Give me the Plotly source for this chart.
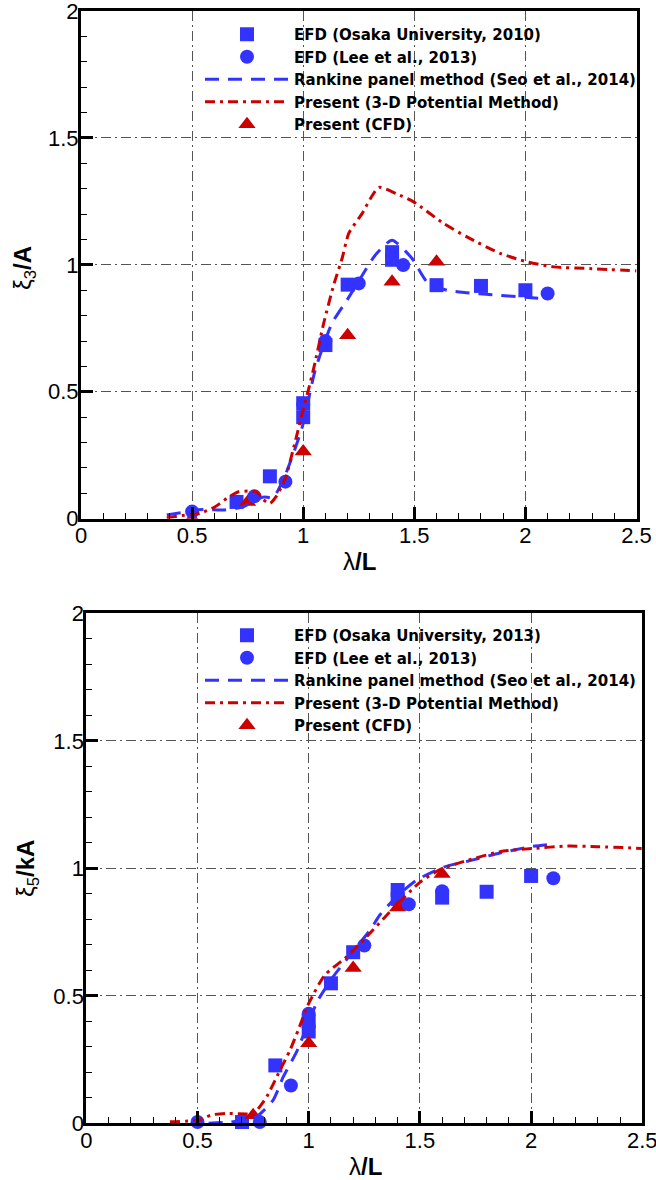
import plotly.graph_objects as go

# ---------------- Top panel (heave) ----------------
osaka1_x = [0.70, 0.85, 1.0, 1.0, 1.1, 1.2, 1.4, 1.4, 1.6, 1.8, 2.0]
osaka1_y = [0.066, 0.167, 0.40, 0.455, 0.684, 0.922, 1.02, 1.05, 0.92, 0.917, 0.90]
lee1_x = [0.5, 0.78, 0.92, 1.0, 1.1, 1.25, 1.45, 2.1]
lee1_y = [0.028, 0.088, 0.146, 0.45, 0.70, 0.927, 0.999, 0.887]
cfd1_x = [0.5, 0.75, 1.0, 1.2, 1.4, 1.6]
cfd1_y = [0.0, 0.066, 0.265, 0.723, 0.933, 1.012]
rk1_x = [0.386, 0.46, 0.52, 0.573, 0.64, 0.73, 0.78, 0.82, 0.866, 0.919, 0.994, 1.054,
         1.129, 1.197, 1.26, 1.324, 1.40, 1.49, 1.557, 1.647, 1.737, 1.85, 2.0, 2.1]
rk1_y = [0.015, 0.025, 0.035, 0.036, 0.034, 0.047, 0.07, 0.085, 0.085, 0.172, 0.356, 0.585,
         0.769, 0.861, 0.95, 1.038, 1.097, 1.025, 0.933, 0.90, 0.89, 0.882, 0.872, 0.865]
pot1_x = [0.386, 0.476, 0.536, 0.60, 0.656, 0.709, 0.79, 0.82, 0.85, 0.88, 0.92, 0.96, 1.0,
          1.03, 1.054, 1.092, 1.137, 1.175, 1.205, 1.265, 1.34, 1.42, 1.497, 1.632, 1.737,
          1.887, 2.007, 2.128, 2.30, 2.50]
pot1_y = [0.004, 0.015, 0.021, 0.045, 0.08, 0.106, 0.106, 0.075, 0.06, 0.09, 0.16, 0.29, 0.43,
          0.53, 0.618, 0.769, 0.92, 1.025, 1.124, 1.202, 1.305, 1.28, 1.248, 1.163, 1.11,
          1.045, 1.012, 0.992, 0.985, 0.976]

# ---------------- Bottom panel (pitch) ----------------
osaka2_x = [0.7, 0.85, 1.0, 1.0, 1.1, 1.2, 1.4, 1.4, 1.6, 1.8, 2.0]
osaka2_y = [0.005, 0.227, 0.36, 0.40, 0.549, 0.671, 0.88, 0.915, 0.885, 0.908, 0.970]
lee2_x = [0.5, 0.78, 0.92, 1.0, 1.25, 1.45, 1.6, 2.1]
lee2_y = [0.005, 0.005, 0.148, 0.43, 0.697, 0.859, 0.91, 0.961]
cfd2_x = [0.75, 1.0, 1.2, 1.4, 1.6]
cfd2_y = [0.032, 0.314, 0.609, 0.846, 0.978]
rk2_x = [0.55, 0.65, 0.72, 0.766, 0.84, 0.886, 0.946, 0.991, 1.04, 1.11, 1.193, 1.276, 1.32,
         1.396, 1.486, 1.605, 1.725, 1.86, 2.0, 2.1]
rk2_y = [0.0, 0.005, 0.015, 0.026, 0.091, 0.183, 0.281, 0.379, 0.48, 0.575, 0.667, 0.758, 0.817,
         0.889, 0.954, 1.004, 1.03, 1.06, 1.085, 1.095]
pot2_x = [0.376, 0.5, 0.564, 0.631, 0.721, 0.75, 0.811, 0.864, 0.916, 0.953, 1.0, 1.073, 1.163,
          1.261, 1.366, 1.50, 1.59, 1.71, 1.86, 2.01, 2.16, 2.30, 2.497]
pot2_y = [0.006, 0.012, 0.033, 0.039, 0.036, 0.035, 0.104, 0.196, 0.287, 0.366, 0.47, 0.582, 0.647,
          0.732, 0.83, 0.945, 0.995, 1.03, 1.065, 1.078, 1.087, 1.085, 1.078]

names_top = ["EFD (Osaka University, 2010)", "EFD (Lee et al., 2013)",
             "Rankine panel method (Seo et al., 2014)", "Present (3-D Potential Method)",
             "Present (CFD)"]
names_bot = ["EFD (Osaka University, 2013)", "EFD (Lee et al., 2013)",
             "Rankine panel method (Seo et al., 2014)", "Present (3-D Potential Method)",
             "Present (CFD)"]

BLUE = "rgb(51,51,255)"
RED = "rgb(204,0,0)"

fig = go.Figure()


def add_panel(xa, ya, leg, names, sq, ci, tr, rk, pot):
    fig.add_trace(go.Scatter(x=sq[0], y=sq[1], mode="markers", name=names[0],
                             marker=dict(symbol="square", size=14, color=BLUE),
                             xaxis=xa, yaxis=ya, legend=leg, legendrank=1, cliponaxis=False))
    fig.add_trace(go.Scatter(x=tr[0], y=tr[1], mode="markers", name=names[4],
                             marker=dict(symbol="triangle-up", size=15, color=RED),
                             xaxis=xa, yaxis=ya, legend=leg, legendrank=5))
    fig.add_trace(go.Scatter(x=ci[0], y=ci[1], mode="markers", name=names[1],
                             marker=dict(symbol="circle", size=14, color=BLUE),
                             xaxis=xa, yaxis=ya, legend=leg, legendrank=2, cliponaxis=False))
    fig.add_trace(go.Scatter(x=rk[0], y=rk[1], mode="lines", name=names[2],
                             line=dict(color=BLUE, width=3, dash="14px,9px", shape="spline", smoothing=0.6),
                             xaxis=xa, yaxis=ya, legend=leg, legendrank=3))
    fig.add_trace(go.Scatter(x=pot[0], y=pot[1], mode="lines", name=names[3],
                             line=dict(color=RED, width=3, dash="10px,5px,3px,5px", shape="spline", smoothing=0.6),
                             xaxis=xa, yaxis=ya, legend=leg, legendrank=4))


add_panel("x", "y", "legend", names_top, (osaka1_x, osaka1_y), (lee1_x, lee1_y),
          (cfd1_x, cfd1_y), (rk1_x, rk1_y), (pot1_x, pot1_y))
add_panel("x2", "y2", "legend2", names_bot, (osaka2_x, osaka2_y), (lee2_x, lee2_y),
          (cfd2_x, cfd2_y), (rk2_x, rk2_y), (pot2_x, pot2_y))

W, H = 656, 1180
tickfont = dict(family="Liberation Sans, Arial", size=22, color="black")


def ax(domain, rng, anchor):
    return dict(domain=domain, range=rng, anchor=anchor, dtick=0.5, tick0=0,
                showline=True, linecolor="black", linewidth=3, mirror=True,
                ticks="inside", ticklen=12, tickwidth=3, tickcolor="black",
                tickfont=tickfont, ticklabelstandoff=-5, ticklabeloverflow="allow",
                showgrid=True, gridcolor="#555555", gridwidth=1,
                griddash="10px,4px,2px,4px", zeroline=False, automargin=False,
                minor=dict(dtick=0.1, ticks="inside", ticklen=6, tickwidth=1,
                           tickcolor="black", showgrid=False))


legfont = dict(family="DejaVu Sans", size=15, color="black", weight="bold")

fig.update_layout(
    width=W, height=H, margin=dict(l=0, r=0, t=0, b=0),
    paper_bgcolor="white", plot_bgcolor="white",
    xaxis=ax([81 / W, 636.5 / W], [0, 2.5], "y"),
    yaxis=ax([1 - 518.7 / H, 1 - 11 / H], [0, 2], "x"),
    xaxis2=ax([86.3 / W, 642.3 / W], [0, 2.5], "y2"),
    yaxis2=ax([1 - 1123.3 / H, 1 - 613.3 / H], [0, 2], "x2"),
    legend=dict(x=200 / W, y=1 - 18 / H, xanchor="left", yanchor="top",
                bgcolor="rgba(0,0,0,0)", borderwidth=0, font=legfont,
                itemwidth=84, tracegroupgap=0),
    legend2=dict(x=200 / W, y=1 - 619 / H, xanchor="left", yanchor="top",
                 bgcolor="rgba(0,0,0,0)", borderwidth=0, font=legfont,
                 itemwidth=84, tracegroupgap=0),
    showlegend=True,
)

titlefont = dict(family="Liberation Sans, Arial", size=24, color="black")
fig.add_annotation(text="λ<b>/L</b>", xref="paper", yref="paper", x=359 / W, y=1 - 562 / H,
                   showarrow=False, font=titlefont, xanchor="center", yanchor="middle")
fig.add_annotation(text="λ<b>/L</b>", xref="paper", yref="paper", x=365 / W, y=1 - 1166 / H,
                   showarrow=False, font=titlefont, xanchor="center", yanchor="middle")
fig.add_annotation(text="ξ<sub>3</sub><b>/A</b>", xref="paper", yref="paper", x=25 / W, y=1 - 268 / H,
                   showarrow=False, font=titlefont, textangle=-90, xanchor="center", yanchor="middle")
fig.add_annotation(text="ξ<sub>5</sub><b>/kA</b>", xref="paper", yref="paper", x=27 / W, y=1 - 869 / H,
                   showarrow=False, font=titlefont, textangle=-90, xanchor="center", yanchor="middle")

fig.write_html("out.html", post_script="document.body.style.margin='0px';",
               config={"displayModeBar": False})
